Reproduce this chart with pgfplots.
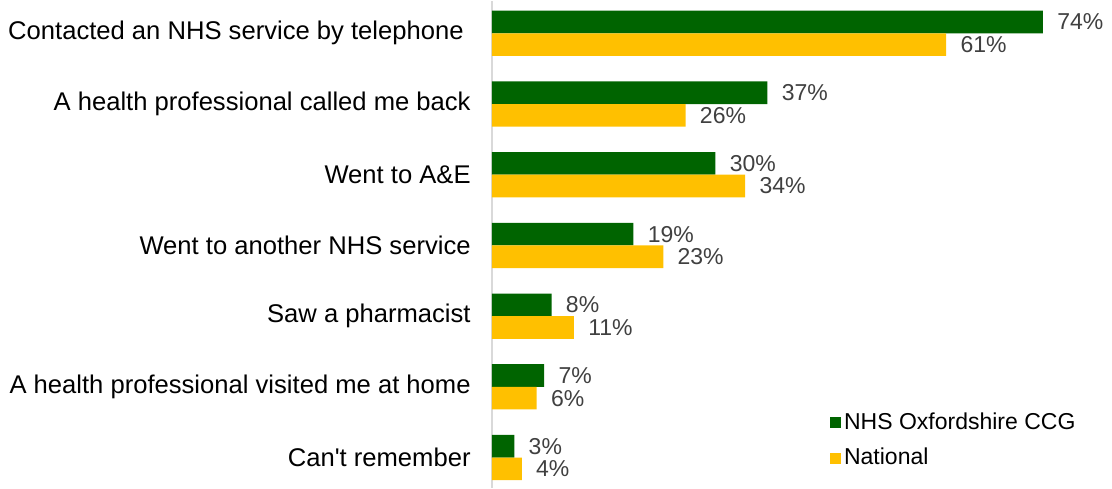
\documentclass[border=0pt]{standalone}
\usepackage{pgfplots}
\pgfplotsset{compat=1.18}
\usepackage{fontspec}
\setmainfont{Liberation Sans}
\definecolor{ccg}{HTML}{006400}
\definecolor{nat}{HTML}{FFC000}
\definecolor{vallab}{HTML}{404040}
\definecolor{axgray}{HTML}{D9D9D9}
\begin{document}
\begin{tikzpicture}
\begin{axis}[
  scale only axis,
  width=310pt, height=243.5pt,
  xbar, bar width=0.32,
  xmin=0, xmax=83.27,
  ymin=-0.43, ymax=6.457,
  axis lines*=left,
  x axis line style={draw=none},
  y axis line style={draw=axgray, line width=1pt, -},
  xtick=\empty,
  ytick={0,...,6},
  yticklabels={Can\textquotesingle t remember, A health professional visited me at home, Saw a pharmacist, Went to another NHS service, Went to A\&E, A health professional called me back, Contacted an NHS service by telephone\hspace*{3.5pt}},
  ytick style={draw=none},
  major tick length=0pt,
  yticklabel style={font=\fontsize{12.8}{15}\selectfont, text=black, inner sep=0pt, xshift=-10.5pt},
  /pgf/number format/assume math mode=true,
  point meta=x,
  nodes near coords={\pgfmathprintnumber{\pgfplotspointmeta}\%},
  every node near coord/.append style={font=\fontsize{11.5}{14}\selectfont, text=vallab, anchor=west, inner sep=0pt, xshift=7pt},
  legend image code/.code={\fill[#1] (-2pt,-2.75pt) rectangle (3.5pt,2.75pt);},
  legend style={draw=none, fill=none, at={(0.535,0.17)}, anchor=north west,
    font=\fontsize{11.5}{14}\selectfont, row sep=5pt, nodes={inner sep=1.5pt}},
  legend cell align=left,
]
\addplot[fill=ccg, draw=none, bar shift=0.16] coordinates {(3,0) (7,1) (8,2) (19,3) (30,4) (37,5) (74,6)};
\addplot[fill=nat, draw=none, bar shift=-0.16] coordinates {(4,0) (6,1) (11,2) (23,3) (34,4) (26,5) (61,6)};
\legend{NHS Oxfordshire CCG, National}
\end{axis}
\path (current axis.south west) ++(-246pt,0pt);
\end{tikzpicture}
\end{document}
